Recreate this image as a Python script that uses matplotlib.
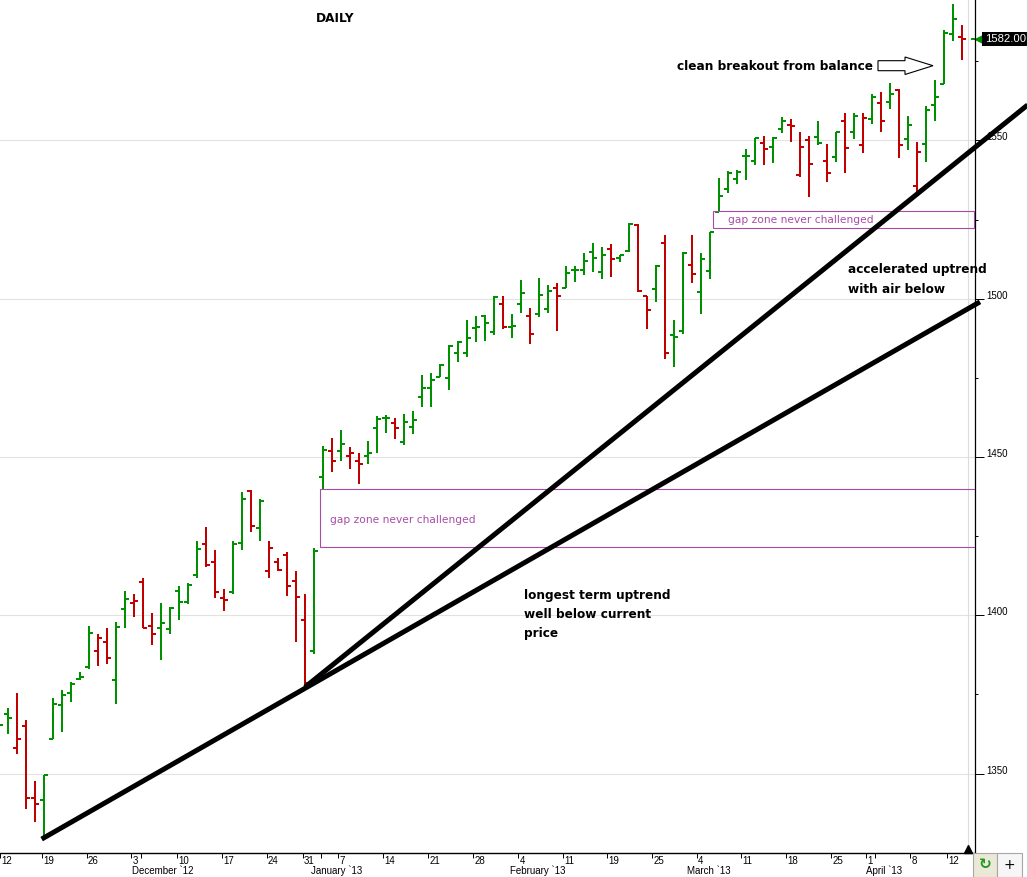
import numpy as np
import matplotlib
matplotlib.use('Agg')
from matplotlib import pyplot as plt
from matplotlib.patches import Rectangle, Polygon

# daily OHLC, futures, Nov 12 2012 .. Apr 12 2013
opens = [1362.0, 1368.7, 1358.2, 1364.9, 1342.4, 1341.5, 1360.9, 1371.8, 1375.6, 1379.8,
         1383.8, 1388.8, 1391.4, 1379.7, 1402.1, 1404.0, 1410.6, 1396.7, 1396.1, 1395.7,
         1407.8, 1404.2, 1412.8, 1422.6, 1416.7, 1405.6, 1407.4, 1422.9, 1439.4, 1427.7,
         1414.1, 1416.9, 1419.1, 1410.9, 1398.6, 1388.7, 1443.8, 1452.0, 1452.0, 1450.4,
         1448.8, 1450.4, 1459.0, 1462.2, 1460.8, 1454.7, 1459.6, 1469.1, 1471.9, 1475.4,
         1475.1, 1482.9, 1482.9, 1490.8, 1494.6, 1489.5, 1498.4, 1491.0, 1498.4, 1494.6,
         1495.2, 1496.8, 1503.4, 1503.3, 1509.1, 1509.1, 1514.8, 1508.3, 1515.7, 1513.0,
         1515.1, 1523.3, 1500.9, 1503.1, 1517.7, 1488.5, 1489.8, 1510.5, 1502.2, 1508.8,
         1527.5, 1534.7, 1537.8, 1545.2, 1543.6, 1549.3, 1548.0, 1553.6, 1554.8, 1539.1,
         1550.1, 1551.1, 1543.6, 1544.8, 1556.2, 1552.6, 1548.7, 1556.9, 1561.9, 1562.2,
         1566.0, 1550.6, 1535.7, 1548.8, 1561.1, 1567.7, 1583.5, 1582.6]
highs = [1367.0, 1370.8, 1375.4, 1366.8, 1347.7, 1349.7, 1373.9, 1376.4, 1378.8, 1382.0,
         1396.6, 1394.1, 1395.9, 1397.8, 1407.7, 1406.6, 1411.8, 1400.6, 1403.8, 1402.5,
         1409.3, 1410.1, 1423.5, 1427.9, 1420.6, 1408.3, 1423.5, 1438.8, 1439.5, 1436.6,
         1423.5, 1418.2, 1419.9, 1414.0, 1406.6, 1421.2, 1453.5, 1456.0, 1458.5, 1453.2,
         1451.3, 1455.1, 1463.0, 1463.3, 1462.3, 1463.6, 1464.5, 1475.9, 1476.5, 1479.3,
         1485.3, 1486.5, 1493.3, 1494.5, 1494.8, 1500.7, 1500.7, 1495.3, 1505.8, 1497.0,
         1506.5, 1504.3, 1504.9, 1510.3, 1510.3, 1514.4, 1517.5, 1516.3, 1517.2, 1513.9,
         1523.9, 1523.5, 1501.0, 1510.5, 1520.0, 1493.2, 1514.8, 1520.0, 1514.4, 1521.2,
         1538.0, 1540.2, 1540.7, 1547.2, 1550.9, 1551.4, 1551.2, 1557.4, 1556.7, 1552.6,
         1551.4, 1556.1, 1549.0, 1552.5, 1558.5, 1558.7, 1558.5, 1564.5, 1565.2, 1568.0,
         1566.3, 1557.6, 1549.5, 1560.8, 1569.2, 1584.8, 1593.2, 1586.4]
lows = [1358.0, 1362.4, 1356.3, 1338.7, 1334.6, 1329.2, 1360.9, 1363.2, 1372.7, 1379.5,
        1382.9, 1384.1, 1384.7, 1372.1, 1396.1, 1399.4, 1395.9, 1390.7, 1385.9, 1394.0,
        1398.6, 1403.7, 1411.9, 1415.3, 1405.3, 1401.2, 1406.8, 1420.7, 1426.4, 1423.6,
        1411.9, 1414.0, 1406.2, 1391.4, 1377.7, 1387.7, 1439.6, 1445.4, 1448.8, 1446.3,
        1441.6, 1447.9, 1451.4, 1457.7, 1455.8, 1453.9, 1457.4, 1465.9, 1465.9, 1475.2,
        1471.3, 1480.1, 1481.7, 1486.4, 1486.7, 1488.6, 1490.5, 1487.7, 1495.5, 1485.6,
        1494.3, 1495.5, 1489.8, 1503.3, 1505.3, 1507.5, 1508.5, 1506.3, 1506.9, 1511.6,
        1514.8, 1502.0, 1490.5, 1498.8, 1480.9, 1478.3, 1488.8, 1504.8, 1495.1, 1506.1,
        1527.5, 1533.3, 1536.2, 1537.4, 1542.2, 1542.1, 1542.8, 1552.3, 1549.4, 1538.3,
        1532.2, 1548.4, 1536.9, 1543.2, 1539.6, 1550.6, 1546.1, 1555.1, 1552.8, 1559.9,
        1544.3, 1547.1, 1533.6, 1543.2, 1556.1, 1567.7, 1581.5, 1575.4]
closes = [1365.2, 1367.4, 1361.0, 1342.4, 1340.5, 1349.7, 1372.1, 1374.8, 1378.2, 1380.6,
          1394.3, 1392.7, 1386.5, 1396.2, 1405.1, 1404.5, 1396.0, 1394.2, 1397.7, 1402.2,
          1404.3, 1409.5, 1421.0, 1415.9, 1407.5, 1404.9, 1422.6, 1436.8, 1428.2, 1436.1,
          1421.4, 1414.4, 1409.1, 1405.9, 1378.5, 1420.3, 1452.3, 1448.8, 1454.2, 1451.4,
          1447.8, 1451.4, 1462.1, 1462.4, 1459.3, 1461.2, 1461.6, 1471.9, 1474.4, 1479.1,
          1485.1, 1486.4, 1487.7, 1491.0, 1492.4, 1500.6, 1491.1, 1491.4, 1501.8, 1488.9,
          1501.1, 1502.5, 1500.9, 1508.2, 1509.1, 1511.9, 1512.9, 1513.8, 1512.6, 1513.8,
          1523.6, 1502.4, 1496.4, 1510.4, 1482.7, 1488.0, 1514.5, 1507.9, 1512.4, 1521.2,
          1532.4, 1539.8, 1540.0, 1545.2, 1550.7, 1547.3, 1550.9, 1556.2, 1554.5, 1547.9,
          1542.6, 1549.2, 1539.8, 1552.5, 1547.7, 1557.7, 1557.0, 1563.6, 1556.2, 1564.7,
          1548.6, 1554.9, 1546.3, 1559.6, 1563.8, 1583.8, 1588.4, 1582.0]

# x axis: week ticks (bar-index positions) and labels
day_pos = [0.11, 4.74, 9.74, 14.67, 19.74, 24.74, 29.74, 33.74, 37.7, 42.7, 47.7, 52.7,
           57.7, 62.63, 67.59, 72.59, 77.52, 82.48, 87.44, 92.44, 96.33, 101.22, 105.3]
day_labels = ['12', '19', '26', '3', '10', '17', '24', '31', '7', '14', '21', '28',
              '4', '11', '19', '25', '4', '11', '18', '25', '1', '8', '12']
month_pos = [14.74, 34.67, 56.78, 76.48, 96.33]
month_labels = ['December `12', 'January `13', 'February `13', 'March `13', 'April `13']
month_ticks = [15.78, 35.74, 97.33]

# trendlines (bar index, price)
long_x = [4.74, 109.0]
long_y = [1329.3, 1499.0]
steep_x = [34.0, 114.3]
steep_y = [1377.3, 1561.2]

# gap zones: (from bar, to bar, low, high)
gaps = [(35.67, 108.44, 1421.6, 1439.9), (79.33, 108.33, 1522.3, 1527.7)]
gap_text = [(36.8, 1430.1), (81.0, 1524.8)]

GREEN = '#009100'
RED = '#c10000'
PURPLE = '#a64ca6'

plt.rcParams['font.family'] = 'DejaVu Sans'

fig = plt.figure(figsize=(10.28, 8.77), dpi=100)
ax = fig.add_axes([0, 0.0277, 0.9489, 0.9723])
ax.set_xlim(0.111, 108.5)
ax.set_ylim(1325.0, 1594.35)

x = np.arange(len(closes))
colors = [GREEN if i == 0 or closes[i] >= closes[i - 1] else RED for i in range(len(closes))]
bar_kw = dict(colors=colors, lw=1.2, capstyle='butt', antialiased=False, zorder=3)
ax.vlines(x, lows, highs, **bar_kw)
ax.hlines(opens, x - 0.47, x, **bar_kw)
ax.hlines(closes, x, x + 0.47, **bar_kw)

# trendlines
ax.plot(long_x, long_y, color='black', lw=3.6, solid_capstyle='butt', clip_on=False, zorder=6)
ax.plot(steep_x, steep_y, color='black', lw=3.6, solid_capstyle='butt', clip_on=False, zorder=6)

# gap boxes
for (x0, x1, lo, hi), (tx, ty) in zip(gaps, gap_text):
    ax.add_patch(Rectangle((x0, lo), x1 - x0, hi - lo, fill=False, edgecolor=PURPLE, lw=0.8, zorder=4))
    ax.text(tx, ty, 'gap zone never challenged', color=PURPLE, fontsize=7.7, va='center', ha='left')

# y axis on the right
ax.yaxis.tick_right()
ax.set_yticks([1350, 1400, 1450, 1500, 1550])
ax.set_yticks([1375, 1425, 1475, 1525, 1575], minor=True)
ax.yaxis.grid(True, color='#e2e2e2', lw=0.8)
ax.set_axisbelow(True)
ax.tick_params(axis='y', which='major', length=6.5, width=0.7, pad=1, labelsize=7)
ax.tick_params(axis='y', which='minor', length=2.2, width=0.7)
for lab in ax.get_yticklabels():
    lab.set_family('Liberation Sans')
    lab.set_va('baseline')

# x axis ticks with labels beside them
ax.set_xticks(day_pos)
ax.set_xticklabels([])
ax.set_xticks(month_ticks, minor=True)
ax.tick_params(axis='x', which='both', direction='out', length=3.6, width=0.7)
for p, lab in zip(day_pos, day_labels):
    ax.annotate(lab, (p, 0), xycoords=('data', 'axes fraction'), xytext=(1.0, -6.0),
                textcoords='offset points', ha='left', va='center', fontsize=7,
                family='Liberation Sans', annotation_clip=False)
for p, lab in zip(month_pos, month_labels):
    ax.annotate(lab, (p, 0), xycoords=('data', 'axes fraction'), xytext=(0, -13.2),
                textcoords='offset points', ha='left', va='center', fontsize=7,
                family='Liberation Sans', annotation_clip=False)

for side in ['left', 'top']:
    ax.spines[side].set_visible(False)
ax.spines['bottom'].set_linewidth(1.0)
ax.spines['right'].set_linewidth(0.9)

# last bar marker line and triangle
ax.axvline(107.7, color='#dcdcdc', lw=0.8, zorder=1)
ax.plot([107.7], [0.0045], marker='^', color='black', ms=5.5,
        transform=ax.get_xaxis_transform(), clip_on=False)

# last price tag
ax.plot([0.9964, 1.0], [closes[-1], closes[-1]], color=GREEN, lw=1.4,
        transform=ax.get_yaxis_transform(), clip_on=False)
ax.plot([1.0048], [closes[-1]], marker='<', color=GREEN, ms=7, mec=GREEN,
        transform=ax.get_yaxis_transform(), clip_on=False)
ax.annotate('%.2f' % closes[-1], (1.0, closes[-1]), xycoords=('axes fraction', 'data'),
            xytext=(6.6, 0), textcoords='offset points', ha='left', va='center',
            color='white', fontsize=8.1, family='Liberation Sans',
            bbox=dict(boxstyle='square,pad=0.2', fc='black', ec='none'), annotation_clip=False)


def fx(px):
    return px / 1028.0


def fy(py):
    return 1 - py / 877.0


# annotations
note_kw = dict(ha='left', va='center', fontsize=8.7, weight='bold')
fig.text(fx(335), fy(19), 'DAILY', ha='center', va='center', fontsize=8.7, weight='bold')
fig.text(fx(677), fy(67), 'clean breakout from balance', **note_kw)
arrow_px = [(878, 60.7), (905, 60.7), (905, 57.0), (933, 65.7), (905, 74.5), (905, 70.7), (878, 70.7)]
fig.patches.append(Polygon([(fx(a), fy(b)) for a, b in arrow_px], closed=True, fc='white', ec='black',
                           lw=0.8, transform=fig.transFigure, figure=fig))
fig.text(fx(848), fy(270), 'accelerated uptrend', **note_kw)
fig.text(fx(848), fy(289), 'with air below', **note_kw)
fig.text(fx(524), fy(595), 'longest term uptrend', **note_kw)
fig.text(fx(524), fy(614), 'well below current', **note_kw)
fig.text(fx(524), fy(633), 'price', **note_kw)

# right border and the two buttons in the corner
fig.add_artist(plt.Line2D([fx(1026.7), fx(1026.7)], [0, 1], color='#d6d6d6', lw=0.8, transform=fig.transFigure))
fig.patches.append(Rectangle((fx(973), 0), 24 / 1028.0, 24 / 877.0, fc='#ebe8d7', ec='#a8a8a8',
                             lw=0.8, transform=fig.transFigure, figure=fig))
fig.patches.append(Rectangle((fx(997), 0), 25 / 1028.0, 24 / 877.0, fc='#f6f6f6', ec='#a8a8a8',
                             lw=0.8, transform=fig.transFigure, figure=fig))
fig.text(fx(985), fy(865), '\u21bb', ha='center', va='center', fontsize=11, color='#1f9a1f', weight='bold')
fig.text(fx(1009.5), fy(865), '+', ha='center', va='center', fontsize=10, color='black')

fig.savefig('out.png', dpi=100)
